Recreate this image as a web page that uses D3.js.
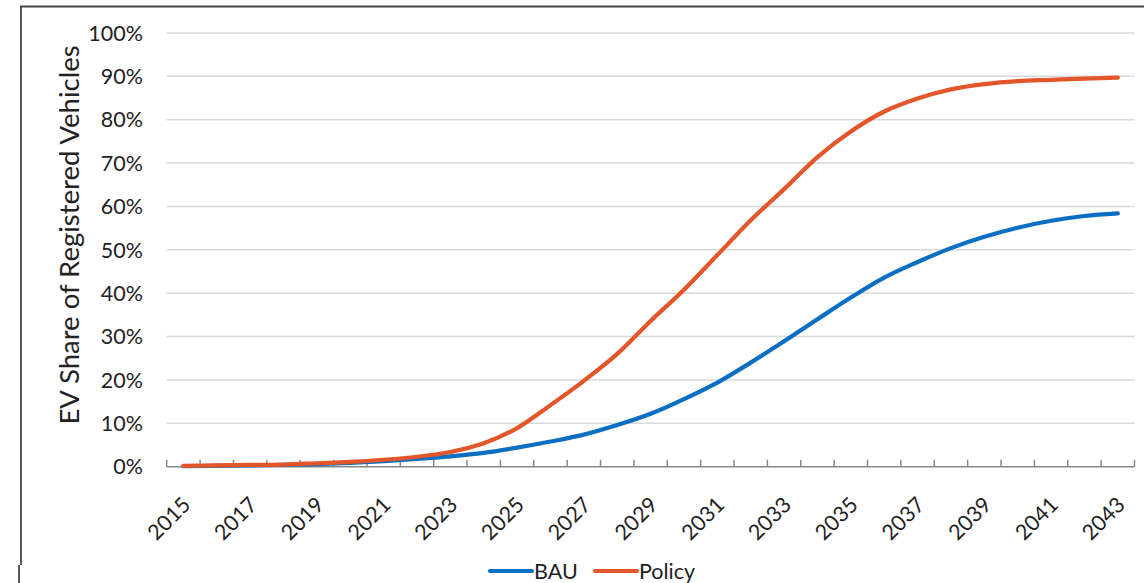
<!DOCTYPE html>
<html>
<head>
<meta charset="utf-8">
<script src="https://cdn.jsdelivr.net/npm/d3@7"></script>
<style>
  html, body { margin: 0; padding: 0; background: #fff; }
  svg { display: block; font-family: Lato, "Open Sans", sans-serif; }
</style>
</head>
<body>
<svg id="chart" width="1144" height="583"></svg>
<script>
const years = [2015,2016,2017,2018,2019,2020,2021,2022,2023,2024,2025,2026,2027,2028,2029,2030,2031,2032,2033,2034,2035,2036,2037,2038,2039,2040,2041,2042,2043];
const bau =    [0.1,0.2,0.3,0.4,0.6,0.9,1.3,1.8,2.4,3.2,4.4,5.8,7.4,9.6,12.2,15.6,19.4,24.0,28.9,34.0,39.0,43.6,47.2,50.4,53.0,55.1,56.7,57.8,58.4];
const policy = [0.2,0.3,0.4,0.5,0.8,1.1,1.6,2.3,3.4,5.4,8.9,14.2,19.8,26.0,33.6,40.8,48.8,56.8,64.0,71.4,77.3,81.9,84.9,87.0,88.2,88.9,89.2,89.5,89.7];
const yTicks = [0,10,20,30,40,50,60,70,80,90,100];
const xLabelYears = [2015,2017,2019,2021,2023,2025,2027,2029,2031,2033,2035,2037,2039,2041,2043];
const seriesNames = ["BAU","Policy"];
const colors = {BAU: "#0A6FC2", Policy: "#E2562A"};
const yTitle = "EV Share of Registered Vehicles";

const svg = d3.select("#chart");
const W = 1144, H = 583;
const plot = {left: 166.7, right: 1134.5, top: 33, bottom: 466.7};

// frame (top & left border)
svg.append("line").attr("x1", 20).attr("x2", W).attr("y1", 6.5).attr("y2", 6.5)
  .attr("stroke", "#444").attr("stroke-width", 1.8);
svg.append("line").attr("x1", 21).attr("x2", 21).attr("y1", 6).attr("y2", 565)
  .attr("stroke", "#444").attr("stroke-width", 1.8);
svg.append("line").attr("x1", 19).attr("x2", 19).attr("y1", 565).attr("y2", H)
  .attr("stroke", "#444").attr("stroke-width", 1.8);

const x = d3.scaleBand().domain(years).range([plot.left, plot.right]).padding(0);
const y = d3.scaleLinear().domain([0, 100]).range([plot.bottom, plot.top]);
const cx = d => x(d) + x.bandwidth() / 2;

// gridlines
svg.append("g").selectAll("line").data(yTicks.filter(t => t > 0)).join("line")
  .attr("x1", plot.left).attr("x2", plot.right)
  .attr("y1", d => y(d)).attr("y2", d => y(d))
  .attr("stroke", "#d9d9d9").attr("stroke-width", 1.5);

// y tick labels
svg.append("g").selectAll("text").data(yTicks).join("text")
  .attr("x", 143).attr("y", d => y(d)).attr("dy", "0.36em")
  .attr("text-anchor", "end").attr("font-size", 21.5).attr("fill", "#222")
  .text(d => d + "%");

// x axis line and ticks
const xg = svg.append("g");
xg.append("line").attr("x1", plot.left).attr("x2", plot.right)
  .attr("y1", y(0)).attr("y2", y(0)).attr("stroke", "#888").attr("stroke-width", 1.5);
const boundaries = years.map(d => x(d)).concat([x(years[years.length - 1]) + x.bandwidth()]);
xg.selectAll("line.tick").data(boundaries).join("line").attr("class", "tick")
  .attr("x1", d => d).attr("x2", d => d)
  .attr("y1", y(0)).attr("y2", y(0) - 7)
  .attr("stroke", "#888").attr("stroke-width", 1.5);

// x labels
xg.selectAll("text").data(xLabelYears).join("text")
  .attr("transform", d => `translate(${cx(d) + 3},${y(0) + 34}) rotate(-45)`)
  .attr("text-anchor", "end").attr("dy", "0.36em")
  .attr("font-size", 21.5).attr("fill", "#222")
  .text(d => d);

// y title
svg.append("text")
  .attr("transform", `translate(79,235) rotate(-90)`)
  .attr("text-anchor", "middle").attr("font-size", 27.5).attr("fill", "#222")
  .text(yTitle);

// lines
const line = d3.line().x((d, i) => cx(years[i])).y(d => y(d)).curve(d3.curveMonotoneX);
const data = {BAU: bau, Policy: policy};
seriesNames.forEach(s => {
  svg.append("path").datum(data[s]).attr("d", line)
    .attr("fill", "none").attr("stroke", colors[s]).attr("stroke-width", 4.2)
    .attr("stroke-linecap", "round").attr("stroke-linejoin", "round");
});

// legend
const legendItems = [{name: "BAU", x: 490}, {name: "Policy", x: 595}];
const lg = svg.append("g");
legendItems.forEach(it => {
  lg.append("line").attr("x1", it.x).attr("x2", it.x + 42).attr("y1", 571).attr("y2", 571)
    .attr("stroke", colors[it.name]).attr("stroke-width", 4.2).attr("stroke-linecap", "round");
  lg.append("text").attr("x", it.x + 44).attr("y", 571).attr("dy", "0.36em")
    .attr("font-size", 21.5).attr("fill", "#222").text(it.name);
});
</script>
</body>
</html>
